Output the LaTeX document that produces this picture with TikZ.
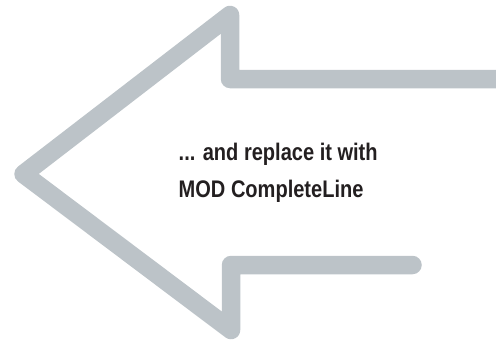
\documentclass[tikz,border=0pt]{standalone}
\usepackage{fontspec}
\setmainfont{Liberation Sans}
\newfontfamily\condfont[FakeStretch=0.835]{Liberation Sans}
\definecolor{arrowgray}{HTML}{BCC3C8}
\definecolor{textdark}{HTML}{231F20}
\tikzset{
  bigarrow/.style={draw=arrowgray, line width=18.5pt, line join=round, line cap=round},
  caption/.style={anchor=base west, inner sep=0pt, text=textdark, font=\condfont\bfseries\fontsize{24}{28}\selectfont}
}
\begin{document}
\begin{tikzpicture}[x=1pt,y=-1pt]
\useasboundingbox (0,0) rectangle (496,340);
\clip (0,0) rectangle (496,340);
\coordinate (rt) at (515,79);
\coordinate (c1) at (230,79);
\coordinate (top) at (230,15);
\coordinate (tip) at (23.5,174);
\coordinate (bot) at (231,330);
\coordinate (c2) at (231,265);
\coordinate (end) at (412.5,265);
\draw[bigarrow] (rt) -- (c1) -- (top) -- (tip) -- (bot) -- (c2) -- (end);
\node[caption] (l1) at (178.5,160.5) {... and replace it with};
\node[caption] (l2) at (178.5,197) {MOD CompleteLine};
\end{tikzpicture}
\end{document}
